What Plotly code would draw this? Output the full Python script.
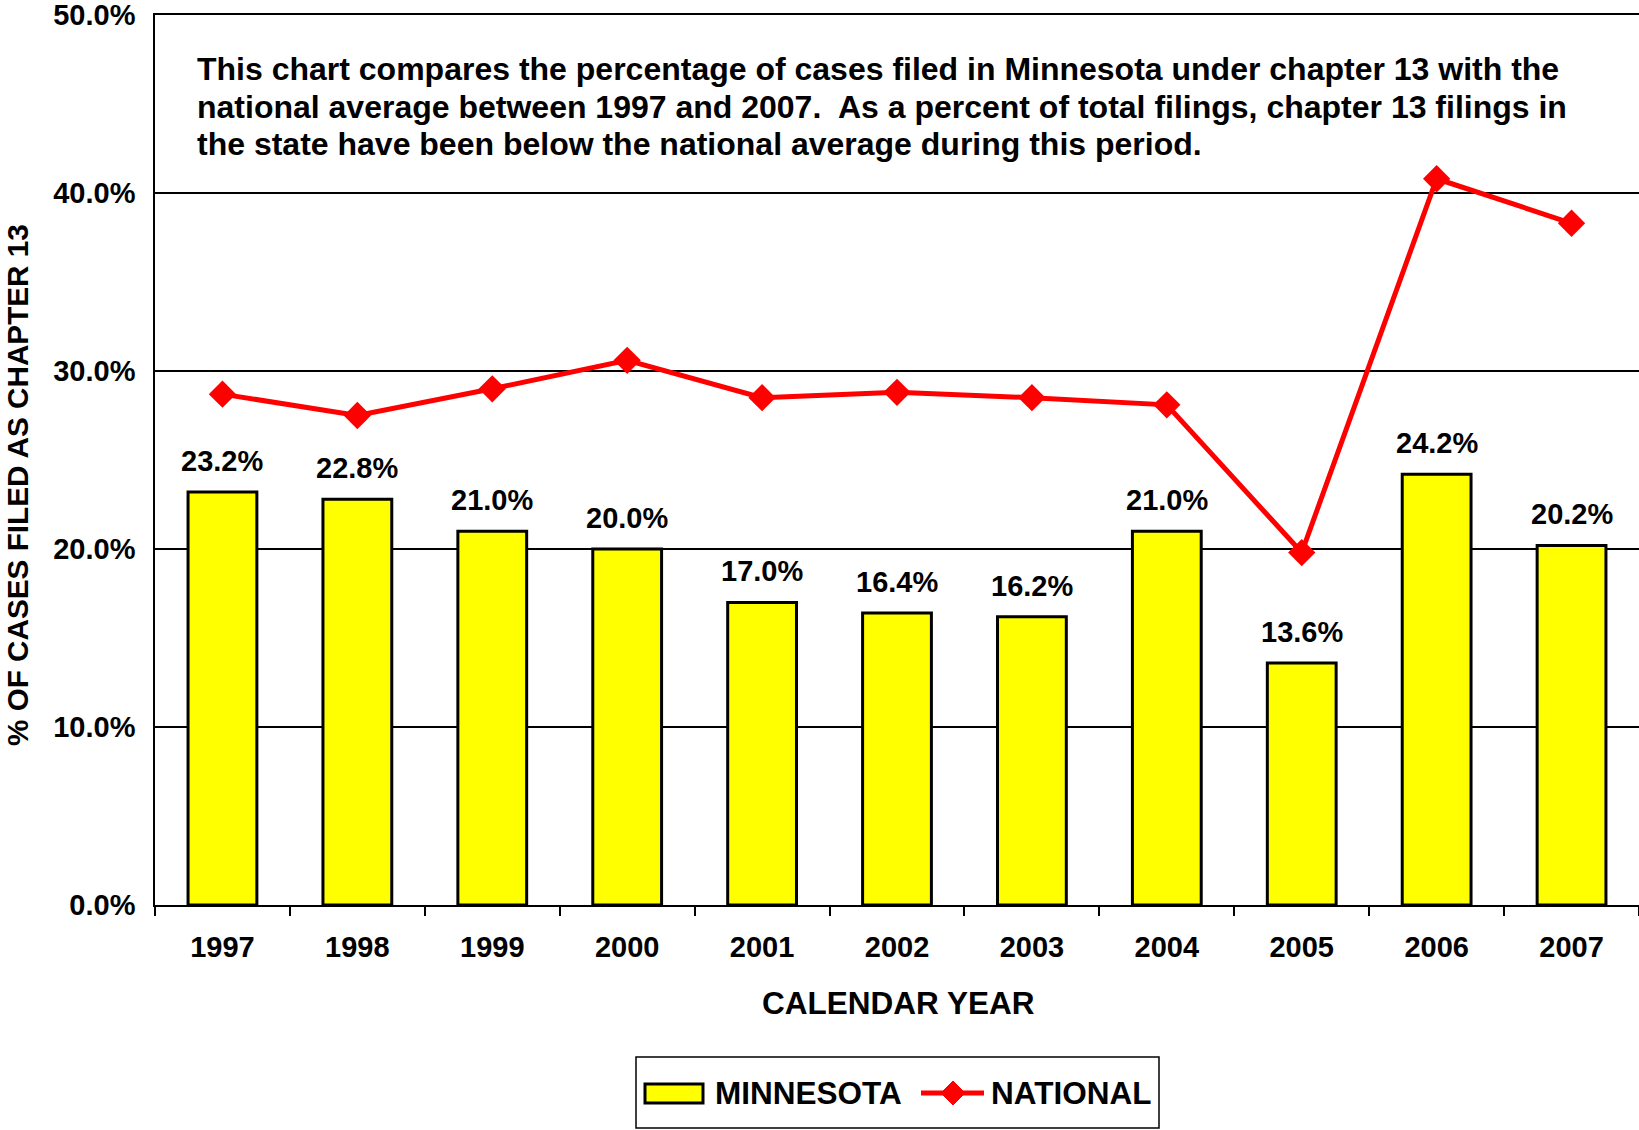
import plotly.graph_objects as go

years = ["1997", "1998", "1999", "2000", "2001", "2002", "2003", "2004", "2005", "2006", "2007"]
minnesota = [23.2, 22.8, 21.0, 20.0, 17.0, 16.4, 16.2, 21.0, 13.6, 24.2, 20.2]
national = [28.7, 27.5, 29.0, 30.6, 28.5, 28.8, 28.5, 28.1, 19.8, 40.8, 38.3]
y_ticks = [0, 10, 20, 30, 40, 50]
note_lines = [
    "This chart compares the percentage of cases filed in Minnesota under chapter 13 with the",
    "national average between 1997 and 2007.\u00a0 As a percent of total filings, chapter 13 filings in",
    "the state have been below the national average during this period.",
]

FONT = "Liberation Sans, Arial, sans-serif"
W, H = 1639, 1130
L, R, T, B = 155, 0, 15, 225
PW, PH = W - L - R, H - T - B


def px(x):
    return (x - L) / PW


def py(y):
    return (H - B - y) / PH


fig = go.Figure()
fig.add_trace(go.Bar(
    x=years, y=minnesota, name="MINNESOTA",
    marker=dict(color="#FFFF00", line=dict(color="black", width=3)),
    width=0.51, showlegend=False,
))
fig.add_trace(go.Scatter(
    x=years, y=national, name="NATIONAL", mode="lines+markers",
    line=dict(color="#FF0000", width=5),
    marker=dict(symbol="diamond", size=21, color="#FF0000"),
    showlegend=False, cliponaxis=False,
))

annotations = []
for i, v in enumerate(minnesota):
    annotations.append(dict(
        x=i, y=v, xref="x", yref="y", text=f"{v:.1f}%", showarrow=False,
        yanchor="bottom", yshift=13,
        font=dict(family=FONT, size=29, color="black", weight="bold"),
    ))

for k, line in enumerate(note_lines):
    annotations.append(dict(
        x=px(195), y=py(69.5 + 37 * k), xref="paper", yref="paper", text=line, showarrow=False,
        xanchor="left", yanchor="middle", align="left",
        font=dict(family=FONT, size=32, color="black", weight="bold"),
    ))
annotations.append(dict(
    x=px(18), y=py(485), xref="paper", yref="paper", text="% OF CASES FILED AS CHAPTER 13",
    showarrow=False, textangle=-90, xanchor="center", yanchor="middle",
    font=dict(family=FONT, size=29.7, color="black", weight="bold"),
))
annotations.append(dict(
    x=px(898), y=py(1003), xref="paper", yref="paper", text="CALENDAR YEAR",
    showarrow=False, xanchor="center", yanchor="middle",
    font=dict(family=FONT, size=31.5, color="black", weight="bold"),
))
# legend labels
annotations.append(dict(
    x=px(713), y=py(1093), xref="paper", yref="paper", text="MINNESOTA",
    showarrow=False, xanchor="left", yanchor="middle",
    font=dict(family=FONT, size=31.5, color="black", weight="bold"),
))
annotations.append(dict(
    x=px(989), y=py(1093), xref="paper", yref="paper", text="NATIONAL",
    showarrow=False, xanchor="left", yanchor="middle",
    font=dict(family=FONT, size=31.5, color="black", weight="bold"),
))

shapes = [
    dict(type="rect", xref="paper", yref="paper", x0=px(636), x1=px(1159), y0=py(1057), y1=py(1128),
         line=dict(color="black", width=1.5), fillcolor="white", layer="below"),
    dict(type="rect", xref="paper", yref="paper", x0=px(645), x1=px(703), y0=py(1084), y1=py(1103),
         line=dict(color="black", width=3), fillcolor="#FFFF00"),
    dict(type="line", xref="paper", yref="paper", x0=px(921), x1=px(984), y0=py(1093), y1=py(1093),
         line=dict(color="#FF0000", width=5)),
    dict(type="path", xref="paper", yref="paper",
         path=(f"M {px(953)} {py(1081)} L {px(965)} {py(1093)} L {px(953)} {py(1105)} "
               f"L {px(941)} {py(1093)} Z"),
         line=dict(color="#FF0000", width=1), fillcolor="#FF0000"),
]

fig.update_layout(
    width=W, height=H,
    margin=dict(l=L, r=R, t=T, b=B),
    paper_bgcolor="white", plot_bgcolor="white",
    annotations=annotations, shapes=shapes,
    font=dict(family=FONT, color="black"),
)
fig.update_xaxes(
    type="category", range=[-0.5, len(years) - 0.5], automargin=False,
    tickson="boundaries", ticks="outside", ticklen=9, tickwidth=1.5, tickangle=0,
    tickcolor="black", showline=True, linecolor="black", linewidth=1.5, mirror=True,
    showgrid=False, ticklabelstandoff=15,
    tickfont=dict(family=FONT, size=29, color="black", weight="bold"),
)
fig.update_yaxes(
    range=[0, 50], automargin=False, tickvals=y_ticks, ticktext=[f"{t:.1f}%" for t in y_ticks],
    showgrid=True, gridcolor="black", gridwidth=1.5,
    showline=True, linecolor="black", linewidth=1.5,
    ticks="inside", ticklen=8, tickwidth=1.5, tickcolor="black",
    ticklabelstandoff=12, zeroline=False, ticklabeloverflow="allow",
    tickfont=dict(family=FONT, size=29, color="black", weight="bold"),
)

fig.write_html(
    "out.html",
    config={"displayModeBar": False},
    post_script="document.body.style.margin='0px';document.body.style.overflow='hidden';",
)
